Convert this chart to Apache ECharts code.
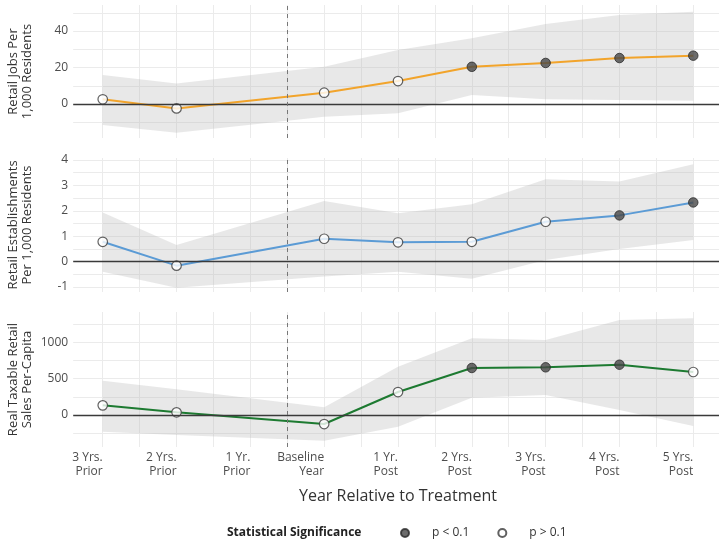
<!DOCTYPE html>
<html>
<head>
<meta charset="utf-8">
<script src="https://cdn.jsdelivr.net/npm/echarts@6/dist/echarts.min.js"></script>
<style>
html, body { margin: 0; padding: 0; background: #fff; }
#chart { width: 719px; height: 540px; }
</style>
</head>
<body>
<div id="chart"></div>
<script>
// x positions 1..9, "1 Yr. Prior" is the omitted reference year
const categories = ['3 Yrs.\nPrior', '2 Yrs.\nPrior', '1 Yr.\nPrior', 'Baseline\nYear',
  '1 Yr.\nPost', '2 Yrs.\nPost', '3 Yrs.\nPost', '4 Yrs.\nPost', '5 Yrs.\nPost']

const jobsEst = [2.6, -2.4, null, 6.2, 12.6, 20.4, 22.5, 25.2, 26.5]
const jobsLow = [-11.5, -15.7, null, -6.9, -5.1, 4.9, 2.6, 2.2, 1.8]
const jobsHigh = [15.9, 11.3, null, 20.4, 29.6, 36.0, 43.8, 48.8, 50.6]
const jobsSig = [0, 0, null, 0, 0, 1, 1, 1, 1]

const estabEst = [0.78, -0.16, null, 0.9, 0.76, 0.78, 1.57, 1.82, 2.33]
const estabLow = [-0.4, -1.03, null, -0.59, -0.4, -0.68, 0.06, 0.5, 0.85]
const estabHigh = [1.93, 0.65, null, 2.39, 1.9, 2.26, 3.24, 3.15, 3.83]
const estabSig = [0, 0, null, 0, 0, 0, 0, 1, 1]

const salesEst = [133, 37, null, -124, 316, 647, 656, 692, 592]
const salesLow = [-229, -275, null, -353, -161, 238, 275, 69, -151]
const salesHigh = [472, 353, null, 106, 665, 1055, 1032, 1307, 1330]
const salesSig = [0, 0, null, 0, 0, 1, 1, 1, 0]

const jobsTicks = [0, 20, 40]
const estabTicks = [-1, 0, 1, 2, 3, 4]
const salesTicks = [0, 500, 1000]

const FONT = '"Open Sans", "Noto Sans", sans-serif'

const panels = [
  { name: 'Retail Jobs Per\n1,000 Residents', est: jobsEst, low: jobsLow, high: jobsHigh, sig: jobsSig,
    ticks: jobsTicks, minor: [-10, 10, 30, 50], min: -18.6, max: 54.25, top: 5, height: 133, color: '#f2a42b' },
  { name: 'Retail Establishments\nPer 1,000 Residents', est: estabEst, low: estabLow, high: estabHigh, sig: estabSig,
    ticks: estabTicks, minor: [-0.5, 0.5, 1.5, 2.5, 3.5], min: -1.197, max: 4.08, top: 158, height: 134, color: '#5b9bd5' },
  { name: 'Real Taxable Retail\nSales Per-Capita', est: salesEst, low: salesLow, high: salesHigh, sig: salesSig,
    ticks: salesTicks, minor: [-250, 250, 750, 1250], min: -440, max: 1417, top: 312, height: 135, color: '#1d7a31' }
]

// vertical grid lines at every category and half-way between
const xSplits = []
for (let i = 2; i <= 18; i++) xSplits.push(i / 2)

function pairs(arr) {
  const out = []
  arr.forEach((v, i) => { if (v !== null) out.push([i + 1, v]) })
  return out
}

const grids = []
const xAxes = []
const yAxes = []
const series = []

panels.forEach((p, k) => {
  const last = k === panels.length - 1
  grids.push({ left: 73.2, width: 649.6, top: p.top, height: p.height, outerBoundsMode: 'none', containLabel: false })
  xAxes.push({
    type: 'value', gridIndex: k, min: 0.6, max: 9.4,
    axisLine: { show: false },
    axisTick: { show: false, customValues: xSplits },
    splitLine: { show: true, lineStyle: { color: '#ebebeb', width: 1 } },
    axisLabel: {
      show: last, customValues: [1, 2, 3, 4, 5, 6, 7, 8, 9],
      formatter: v => categories[Math.round(v) - 1],
      align: 'right', margin: 4, fontSize: 12, lineHeight: 14, color: '#4d4d4d', fontFamily: FONT
    },
    name: last ? 'Year Relative to Treatment' : '',
    nameLocation: 'middle', nameGap: 41, nameMoveOverlap: false,
    nameTextStyle: { fontSize: 16, color: '#333', fontFamily: FONT }
  })
  yAxes.push({
    type: 'value', gridIndex: k, min: p.min, max: p.max,
    axisLine: { show: false },
    axisTick: { show: false, customValues: p.ticks.concat(p.minor).sort((a, b) => a - b) },
    splitLine: { show: true, lineStyle: { color: '#ebebeb', width: 1 } },
    axisLabel: {
      customValues: p.ticks, formatter: v => String(v),
      margin: 5, fontSize: 12, color: '#4d4d4d', fontFamily: FONT
    },
    name: p.name, nameLocation: 'middle', nameRotate: 90, nameGap: 39, nameMoveOverlap: false,
    nameTextStyle: { fontSize: 13, lineHeight: 14, color: '#333', fontFamily: FONT }
  })

  // confidence band drawn as one polygon through the axis scales
  const lowPts = pairs(p.low)
  const highPts = pairs(p.high)
  series.push({
    type: 'custom', xAxisIndex: k, yAxisIndex: k, silent: true, z: 1,
    data: lowPts.map((d, i) => [d[0], d[1], highPts[i][1]]),
    encode: { x: 0, y: [1, 2] },
    renderItem: (params, api) => {
      if (params.dataIndex !== 0) return null
      const pts = highPts.map(d => api.coord(d)).concat(lowPts.slice().reverse().map(d => api.coord(d)))
      return { type: 'polygon', shape: { points: pts }, style: { fill: 'rgba(185,185,185,0.33)' } }
    }
  })
  series.push({
    type: 'line', xAxisIndex: k, yAxisIndex: k, data: pairs(p.est),
    symbol: 'none', lineStyle: { color: p.color, width: 2 }, z: 3,
    markLine: {
      silent: true, symbol: ['none', 'none'], label: { show: false }, animation: false,
      data: [
        { yAxis: 0, lineStyle: { color: '#3a3a3a', width: 1.3, type: 'solid' } },
        { xAxis: 3.5, lineStyle: { color: '#777', width: 1, type: [4, 4] } }
      ]
    }
  })
  series.push({
    name: 'p < 0.1', type: 'scatter', xAxisIndex: k, yAxisIndex: k, z: 4,
    data: pairs(p.est.map((v, i) => (p.sig[i] === 1 ? v : null))),
    symbolSize: 9.5, itemStyle: { color: '#474747', borderColor: '#2b2b2b', borderWidth: 1 }
  })
  series.push({
    name: 'p > 0.1', type: 'scatter', xAxisIndex: k, yAxisIndex: k, z: 4,
    data: pairs(p.est.map((v, i) => (p.sig[i] === 0 ? v : null))),
    symbolSize: 9.5, itemStyle: { color: '#ffffff', borderColor: '#3a3a3a', borderWidth: 1.2 }
  })
})

const myChart = echarts.init(document.getElementById('chart'))
myChart.setOption({
  animation: false,
  backgroundColor: '#fff',
  grid: grids,
  xAxis: xAxes,
  yAxis: yAxes,
  legend: {
    data: ['p < 0.1', 'p > 0.1'], icon: 'circle', left: 395, top: 522,
    itemWidth: 8, itemHeight: 8, itemGap: 28,
    textStyle: { fontSize: 12, color: '#333', fontFamily: FONT, padding: [0, 0, 0, 18] }
  },
  graphic: [{
    type: 'text', left: 227, top: 527,
    style: { text: 'Statistical Significance', font: 'bold 12px ' + FONT, fill: '#222' }
  }],
  series: series
})
</script>
</body>
</html>
